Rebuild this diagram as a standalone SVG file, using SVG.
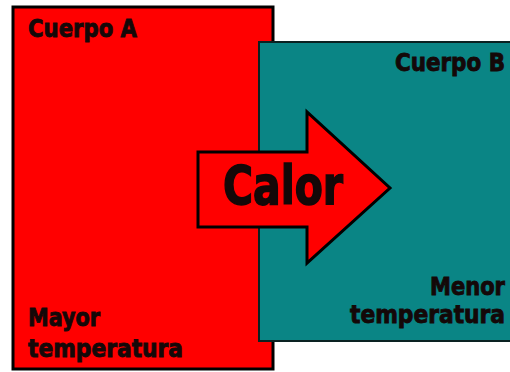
<svg xmlns="http://www.w3.org/2000/svg" width="510" height="372" viewBox="0 0 510 372">
<style>
.t{font-family:"Liberation Sans Narrow","DejaVu Sans Condensed","Liberation Sans",sans-serif;font-weight:bold;fill:#140808;stroke:#140808;font-stretch:condensed}
.s{font-size:24px;stroke-width:0.8}
.c{font-size:54px;stroke-width:1.5}
</style>
<rect width="510" height="372" fill="#ffffff"/>
<g id="cuerpoA">
<rect x="13" y="7" width="260" height="362" fill="#ff0000" stroke="#000" stroke-width="3"/>
<text class="t s" x="28" y="37" textLength="109" lengthAdjust="spacingAndGlyphs">Cuerpo A</text>
<text class="t s" x="28" y="326" textLength="72" lengthAdjust="spacingAndGlyphs">Mayor</text>
<text class="t s" x="28" y="357" textLength="155" lengthAdjust="spacingAndGlyphs">temperatura</text>
</g>
<g id="cuerpoB">
<rect x="259" y="42" width="256" height="299" fill="#0a8585" stroke="#0a2222" stroke-width="2"/>
<text class="t s" x="395" y="71" textLength="110" lengthAdjust="spacingAndGlyphs">Cuerpo B</text>
<text class="t s" x="430" y="295" textLength="75" lengthAdjust="spacingAndGlyphs">Menor</text>
<text class="t s" x="350" y="323" textLength="155" lengthAdjust="spacingAndGlyphs">temperatura</text>
</g>
<g id="connectors">
<g id="calor">
<path d="M198,152 H307 V112 L390,188 L307,263 V227 H198 Z" fill="#ff0000" stroke="#000" stroke-width="3" stroke-linejoin="miter"/>
<text class="t c" x="223" y="204" textLength="120" lengthAdjust="spacingAndGlyphs">Calor</text>
</g>
</g>
</svg>
